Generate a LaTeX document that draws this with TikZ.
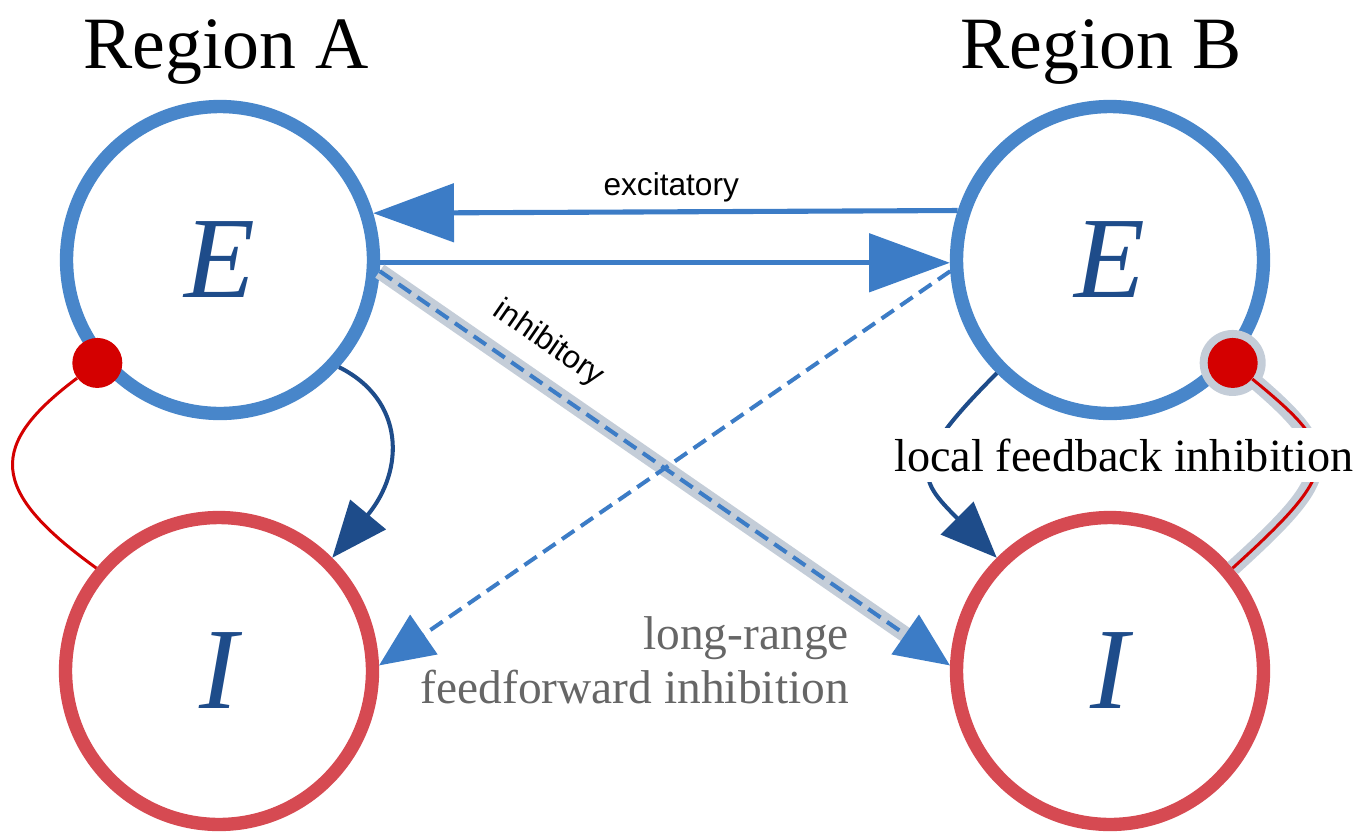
\documentclass[tikz,border=0pt]{standalone}
\usepackage{fontspec}
\setmainfont{Liberation Serif}
\newfontfamily\labelsans{Liberation Sans}
\usetikzlibrary{arrows.meta, calc}

\definecolor{popblue}{RGB}{72,134,202}
\definecolor{popred}{RGB}{214,74,82}
\definecolor{linkblue}{RGB}{60,124,198}
\definecolor{deepblue}{RGB}{30,76,138}
\definecolor{dotred}{RGB}{212,0,0}
\definecolor{haze}{RGB}{196,205,216}

\begin{document}
\begin{tikzpicture}[x=0.02cm, y=-0.02cm,
    pop/.style={circle, draw, line width=7.6pt, minimum size=6.14cm, inner sep=0pt,
        text=deepblue, font=\fontsize{66}{70}\selectfont\itshape},
    excpop/.style={pop, draw=popblue},
    inhpop/.style={pop, draw=popred},
    title/.style={anchor=base, font=\fontsize{42}{48}\selectfont},
    excit/.style={linkblue, line width=2.9pt, -{Triangle[length=46pt, width=33pt]}},
    longinh/.style={linkblue, line width=2.3pt, dash pattern=on 8.5pt off 4.5pt,
        -{Triangle[length=31pt, width=27pt]}},
    localexc/.style={deepblue, line width=2.3pt, -{Triangle[length=32pt, width=26pt]}},
    localinh/.style={dotred, line width=1.7pt},
    syn/.style={circle, fill=dotred, minimum size=1cm, inner sep=0pt},
    tag/.style={inner sep=0pt, text=black, font=\labelsans\fontsize{18}{21}\selectfont}]

    \useasboundingbox (0,0) rectangle (1362,832);

    % Region titles
    \node[title] (titleA) at (226,68) {Region A};
    \node[title] (titleB) at (1101,68) {Region B};

    % Populations of each region
    \node[excpop] (EA) at (220,260) {E};
    \node[excpop] (EB) at (1110,260) {E};
    \node[inhpop] (IA) at (219,671) {I};
    \node[inhpop] (IB) at (1110,671) {I};

    % Excitatory links between the E populations
    \draw[excit] (EB.162.5) -- node[tag, pos=0.49, above=4pt] (exclabel) {excitatory} (EA.17.5);
    \draw[excit] (EA.-1) -- (EB.181);

    % Long-range feedforward inhibition, highlighted one first
    \draw[haze, line width=9pt] (EA.-4) -- ($(IB.178)!0.05!(EA.-4)$);
    \draw[longinh] (EA.-4) -- node[tag, pos=0.26, sloped, above=11pt] (inhlabel) {inhibitory} (IB.178);
    \draw[longinh] (EB.184) -- (IA.2);

    % Local loop of Region A
    \draw[localexc] (EA.-42) .. controls (405,400) and (405,470) .. (IA.45);
    \node[syn] (dotA) at (EA.220) {};
    \draw[localinh] (dotA) .. controls (-12,445) and (-12,490) .. (IA.140);

    % Local loop of Region B
    \draw[localexc] (EB.225) .. controls +(-90,90) and +(-80,-80) .. (IB.135);
    \fill[haze] (EB.-40) circle (33);
    \draw[haze, line width=9pt] (EB.-40) .. controls +(110,90) and +(110,-100) .. (IB.40);
    \node[syn] (dotB) at (EB.-40) {};
    \draw[localinh] (dotB) .. controls +(110,90) and +(110,-100) .. (IB.40);

    % Captions
    \node[fill=white, inner xsep=1pt, inner ysep=6pt, font=\fontsize{26.3}{30}\selectfont]
        (localtxt) at (1124,455) {local feedback inhibition};
    \node[anchor=east, align=right, text=black!60, font=\fontsize{27}{31}\selectfont]
        (longtxt) at (855,660) {long-range\\feedforward inhibition};
\end{tikzpicture}
\end{document}
